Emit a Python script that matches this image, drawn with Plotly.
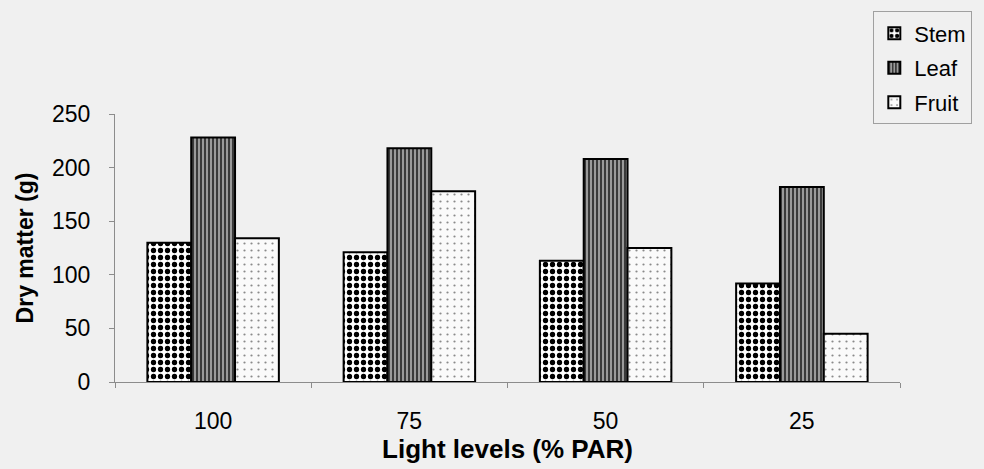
import plotly.graph_objects as go

categories = ["100", "75", "50", "25"]
stem = [130, 121, 113, 92]
leaf = [228, 218, 208, 182]
fruit = [134, 178, 125, 45]
y_ticks = [0, 50, 100, 150, 200, 250]

BG = "#f0f0f0"
FONT = "Liberation Sans, Arial, sans-serif"

fig = go.Figure()
fig.add_trace(go.Bar(
    name="Stem", x=categories, y=stem, legendgroup="s",
    marker=dict(color="white", line=dict(color="black", width=2),
                pattern=dict(shape=".", fgcolor="black", bgcolor="white",
                             size=7, solidity=0.45, fillmode="replace")),
))
fig.add_trace(go.Bar(
    name="Leaf", x=categories, y=leaf, legendgroup="l",
    marker=dict(color="#6a6a6a", line=dict(color="black", width=2),
                pattern=dict(shape="|", fgcolor="#3a3a3a", bgcolor="#9a9a9a",
                             size=4, solidity=0.5, fillmode="replace")),
))
fig.add_trace(go.Bar(
    name="Fruit", x=categories, y=fruit, legendgroup="f",
    marker=dict(color="#fafafa", line=dict(color="black", width=2),
                pattern=dict(shape=".", fgcolor="#8a8a8a", bgcolor="#fafafa",
                             size=7, solidity=0.08, fillmode="replace")),
))

fig.update_layout(
    width=984, height=469,
    margin=dict(l=115, r=79, t=113, b=87),
    paper_bgcolor=BG, plot_bgcolor=BG,
    barmode="group", bargap=0.33, bargroupgap=0,
    font=dict(family=FONT, size=23, color="black"),
    showlegend=True,
    legend=dict(x=0.966, y=1.383, xanchor="left", yanchor="top",
                bgcolor=BG, bordercolor="#a0a0a0", borderwidth=1,
                font=dict(size=22), itemwidth=30, tracegroupgap=3,
                traceorder="grouped"),
    xaxis=dict(
        type="category", showline=True, linecolor="#8c8c8c", linewidth=1,
        ticks="outside", tickson="boundaries", ticklen=5, tickcolor="#8c8c8c",
        ticklabelstandoff=18, showgrid=False,
        title=dict(text="<b>Light levels (% PAR)</b>", standoff=2,
                   font=dict(size=26)),
    ),
    yaxis=dict(
        range=[0, 250], tickvals=y_ticks, showline=True, linecolor="#8c8c8c",
        linewidth=1, ticks="outside", ticklen=5, tickcolor="#8c8c8c",
        ticklabelstandoff=14, showgrid=False, zeroline=False,
        title=dict(text="<b>Dry matter (g)</b>", standoff=11,
                   font=dict(size=23)),
    ),
)

fig.write_html("out.html")
